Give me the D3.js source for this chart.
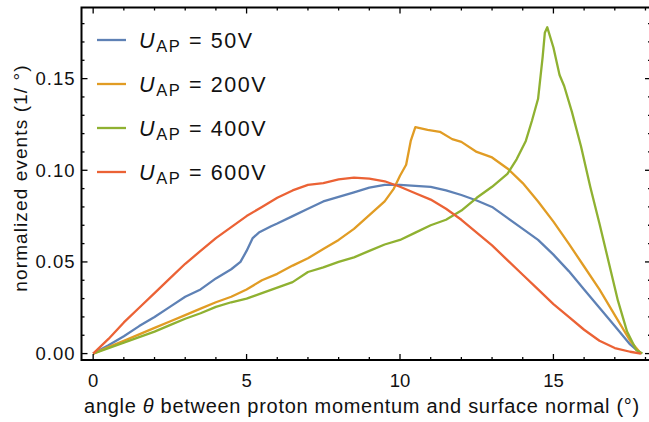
<!DOCTYPE html>
<html lang="en">
<head>
<meta charset="UTF-8">
<script src="https://d3js.org/d3.v7.min.js"></script>
<title>Angle distribution</title>
<style>
    body { margin: 0; background: white; }
    text { font-family: "Liberation Sans", Arial, sans-serif; fill: #111; }
</style>
</head>
<body>
<div class="fig"></div>
<script>
    // series: angle (deg) and normalized events (1/deg)
    const u50 = [[0,0],[0.5,0.0045],[1,0.0095],[1.5,0.015],[2,0.02],[2.5,0.0255],[3,0.031],[3.5,0.035],[4,0.041],[4.5,0.046],[4.8,0.05],[5,0.056],[5.2,0.063],[5.4,0.066],[5.8,0.0695],[6,0.071],[6.5,0.075],[7,0.079],[7.5,0.083],[8,0.0855],[8.5,0.088],[9,0.0905],[9.5,0.092],[10,0.092],[10.5,0.0915],[11,0.091],[11.5,0.089],[12,0.0865],[12.5,0.0835],[13,0.08],[13.5,0.074],[14,0.068],[14.5,0.062],[15,0.054],[15.5,0.045],[16,0.035],[16.5,0.025],[17,0.015],[17.5,0.005],[17.85,0]];
    const u200 = [[0,0],[0.5,0.0035],[1,0.007],[1.5,0.0105],[2,0.014],[2.5,0.0175],[3,0.021],[3.5,0.0245],[4,0.028],[4.5,0.031],[5,0.035],[5.5,0.04],[6,0.0435],[6.5,0.048],[7,0.052],[7.5,0.057],[8,0.062],[8.5,0.068],[9,0.0755],[9.5,0.083],[9.8,0.09],[10,0.097],[10.2,0.103],[10.35,0.116],[10.5,0.1235],[10.9,0.122],[11.3,0.121],[11.7,0.117],[12,0.1155],[12.5,0.11],[13,0.107],[13.5,0.101],[14,0.093],[14.5,0.083],[15,0.072],[15.5,0.06],[16,0.0475],[16.5,0.035],[17,0.021],[17.5,0.007],[17.85,0]];
    const u400 = [[0,0],[0.5,0.003],[1,0.006],[1.5,0.009],[2,0.012],[2.5,0.0155],[3,0.019],[3.5,0.022],[4,0.0255],[4.5,0.028],[5,0.03],[5.5,0.033],[6,0.036],[6.5,0.039],[7,0.0445],[7.5,0.047],[8,0.05],[8.5,0.0525],[9,0.056],[9.5,0.0595],[10,0.062],[10.5,0.066],[11,0.07],[11.5,0.073],[12,0.078],[12.5,0.085],[13,0.091],[13.5,0.098],[13.8,0.106],[14.1,0.116],[14.3,0.127],[14.5,0.139],[14.65,0.162],[14.72,0.175],[14.8,0.178],[15,0.167],[15.2,0.152],[15.35,0.146],[15.6,0.132],[15.9,0.113],[16.2,0.091],[16.5,0.071],[16.8,0.05],[17.1,0.029],[17.4,0.012],[17.7,0.002],[17.9,0]];
    const u600 = [[0,0],[0.5,0.008],[1,0.017],[1.5,0.025],[2,0.033],[2.5,0.041],[3,0.049],[3.5,0.056],[4,0.063],[4.5,0.069],[5,0.075],[5.5,0.08],[6,0.085],[6.5,0.089],[7,0.092],[7.5,0.093],[8,0.095],[8.5,0.096],[9,0.0955],[9.5,0.094],[10,0.091],[10.5,0.0875],[11,0.084],[11.5,0.079],[12,0.073],[12.5,0.066],[13,0.059],[13.5,0.051],[14,0.043],[14.5,0.035],[15,0.027],[15.5,0.02],[16,0.013],[16.5,0.007],[17,0.003],[17.5,0.001],[17.85,0]];

    const labels = ["50V", "200V", "400V", "600V"];
    const colors = ["#5e81b5", "#e19c24", "#8fb131", "#eb6235"];
    const xTicks = [0, 5, 10, 15];
    const yTicks = [0.00, 0.05, 0.10, 0.15];

    const series = [u50, u200, u400, u600];

    const width = 649, height = 422;
    const margin = {left: 81.5, right: -2, top: 7.5, bottom: 62};

    const svg = d3.select(".fig").append("svg")
        .attr("width", width)
        .attr("height", height);

    const x = d3.scaleLinear()
        .domain([-0.38, 18.18])
        .range([margin.left, width - margin.right]);
    const y = d3.scaleLinear()
        .domain([-0.0035, 0.1888])
        .range([height - margin.bottom, margin.top]);

    const line = d3.line()
        .x(d => x(d[0]))
        .y(d => y(d[1]));

    // curves
    svg.append("g").selectAll("path")
        .data(series)
        .enter()
        .append("path")
        .attr("d", d => line(d))
        .attr("fill", "none")
        .attr("stroke", (d, i) => colors[i])
        .attr("stroke-width", 2.3)
        .attr("stroke-linejoin", "round");

    // frame with inward ticks
    const x0 = margin.left, x1 = width - margin.right;
    const y0 = height - margin.bottom, y1 = margin.top;
    const minorX = d3.range(0, 19, 1);
    const minorY = d3.range(0, 0.19, 0.01);

    const ticks = svg.append("g").attr("stroke", "black");
    minorX.forEach(v => {
        const len = xTicks.includes(v) ? 6 : 3;
        ticks.append("line").attr("x1", x(v)).attr("x2", x(v)).attr("y1", y0).attr("y2", y0 - len).attr("stroke-width", 1.3);
        ticks.append("line").attr("x1", x(v)).attr("x2", x(v)).attr("y1", y1).attr("y2", y1 + len).attr("stroke-width", 1.3);
    });
    minorY.forEach(v => {
        const major = yTicks.some(t => Math.abs(t - v) < 1e-6);
        const len = major ? 6 : 3;
        ticks.append("line").attr("x1", x0).attr("x2", x0 + len).attr("y1", y(v)).attr("y2", y(v)).attr("stroke-width", 1.3);
        ticks.append("line").attr("x1", x1).attr("x2", x1 - len).attr("y1", y(v)).attr("y2", y(v)).attr("stroke-width", 1.3);
    });

    svg.append("rect")
        .attr("x", x0).attr("y", y1)
        .attr("width", x1 - x0).attr("height", y0 - y1)
        .attr("fill", "none")
        .attr("stroke", "black")
        .attr("stroke-width", 2);

    // tick labels
    svg.append("g").selectAll("text")
        .data(xTicks)
        .enter()
        .append("text")
        .attr("x", d => x(d))
        .attr("y", 387)
        .attr("text-anchor", "middle")
        .attr("font-size", 18.5)
        .text(d => d);

    svg.append("g").selectAll("text")
        .data(yTicks)
        .enter()
        .append("text")
        .attr("x", x0 - 6)
        .attr("y", d => y(d))
        .attr("dy", "0.35em")
        .attr("text-anchor", "end")
        .attr("font-size", 18.5)
        .attr("letter-spacing", 1)
        .text(d => d3.format(".2f")(d));

    // axis titles
    svg.append("text")
        .attr("x", 362)
        .attr("y", 413)
        .attr("text-anchor", "middle")
        .attr("font-size", 20)
        .attr("letter-spacing", 0.7)
        .html("angle <tspan font-style='italic'>θ</tspan> between proton momentum and surface normal (°)");

    svg.append("text")
        .attr("transform", "translate(27," + 178 + ") rotate(-90)")
        .attr("text-anchor", "middle")
        .attr("font-size", 19)
        .attr("letter-spacing", 1.1)
        .text("normalized events (1/ °)");

    // legend
    const legend = svg.append("g");
    labels.forEach((lab, i) => {
        const ly = 40 + i * 44;
        legend.append("line")
            .attr("x1", 97).attr("x2", 126)
            .attr("y1", ly).attr("y2", ly)
            .attr("stroke", colors[i])
            .attr("stroke-width", 2.3);
        const t = legend.append("text")
            .attr("x", 139)
            .attr("y", ly + 7.5)
            .attr("font-size", 21.5)
            .attr("letter-spacing", 1.6);
        t.append("tspan").attr("font-style", "italic").text("U");
        t.append("tspan").attr("font-size", 16.5).attr("dy", 4).text("AP");
        t.append("tspan").attr("dy", -4).text(" = " + lab);
    });
</script>
</body>
</html>
